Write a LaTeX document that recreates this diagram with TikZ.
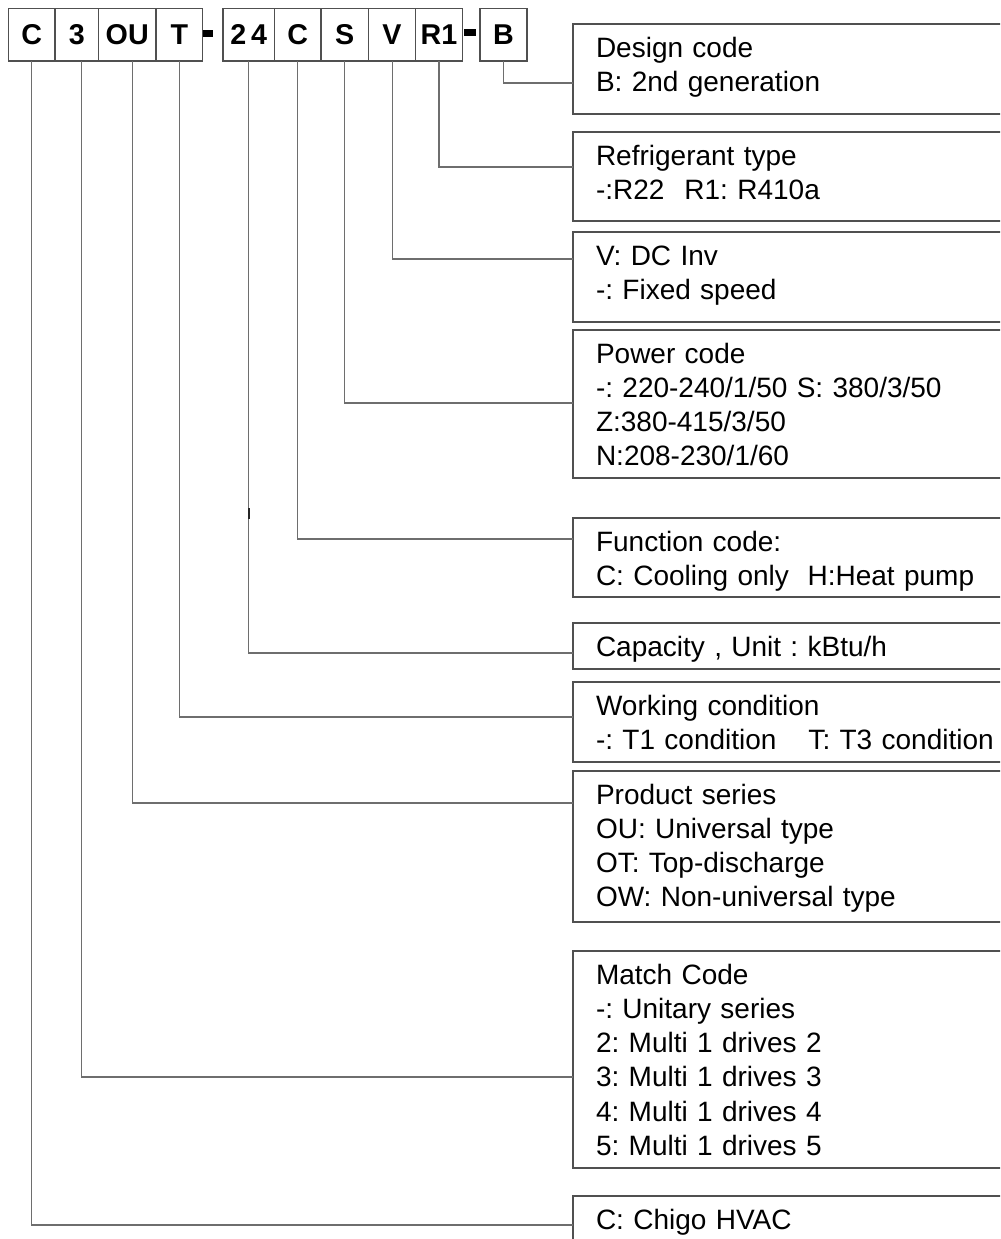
\documentclass[tikz,border=0pt]{standalone}
\usepackage{fontspec}
\setmainfont{Liberation Sans}
\usetikzlibrary{positioning}

\definecolor{linegray}{HTML}{6E6E6E}
\definecolor{boxgray}{HTML}{505050}

\begin{document}
\frenchspacing
\begin{tikzpicture}[
  x=0.75pt, y=-0.75pt,
  every node/.style={inner sep=0pt, outer sep=0pt},
  codebox/.style={draw=boxgray, line width=0.9pt, anchor=north west, minimum height=39.4pt,
    font=\fontsize{21.5}{25}\selectfont\bfseries},
  sepbar/.style={fill=black, anchor=north west, minimum height=5.25pt},
  infobox/.style={draw=boxgray, line width=0.9pt, anchor=north west, align=left,
    text width=316pt, inner xsep=17.25pt, inner ysep=0pt,
    text height=24.75pt, text depth=#1, font=\fontsize{21}{25.7}\selectfont},
  link/.style={draw=linegray, line width=0.8pt}]
\useasboundingbox (0,0) rectangle (1000,1239);
\clip (0,0) rectangle (1000,1239);

% model code boxes
\node[codebox, minimum width=34.8pt] (cC) at (8.6,8.5) {C};
\node[codebox, minimum width=32.6pt] (c3) at (55,8.5) {3};
\node[codebox, minimum width=43.1pt] (cOU) at (98.5,8.5) {OU};
\node[codebox, minimum width=34.9pt] (cT) at (156,8.5) {T};
\node[sepbar, minimum width=7.5pt] (sep1) at (203.3,29.5) {};
\node[codebox, minimum width=38.6pt] (c24) at (223,8.5) {2\,4};
\node[codebox, minimum width=34.9pt] (cFn) at (274.5,8.5) {C};
\node[codebox, minimum width=35.6pt] (cS) at (321,8.5) {S};
\node[codebox, minimum width=35.3pt] (cV) at (368.5,8.5) {V};
\node[codebox, minimum width=35.1pt] (cR1) at (415.6,8.5) {R1};
\node[sepbar, minimum width=9pt] (sep2) at (463.8,29) {};
\node[codebox, minimum width=35.3pt] (cB) at (480,8.5) {B};

% explanation boxes
\node[infobox=42.75pt] (dDesign) at (573,24) {Design code\\B: 2nd generation};
\node[infobox=42pt] (dRefr) at (573,132) {Refrigerant type\\-:R22\hspace{15pt}R1: R410a};
\node[infobox=42.75pt] (dInv) at (573,232) {V: DC Inv\\-: Fixed speed};
\node[infobox=86.25pt] (dPower) at (573,330) {Power code\\-: 220-240/1/50 S: 380/3/50\\Z:380-415/3/50\\N:208-230/1/60};
\node[infobox=34.5pt] (dFunc) at (573,518) {Function code:\\C: Cooling only\hspace{14pt}H:Heat pump};
\node[infobox=9.75pt] (dCap) at (573,623) {Capacity , Unit : kBtu/h};
\node[infobox=35.25pt] (dWork) at (573,682) {Working condition\\-: T1 condition\hspace{24pt}T: T3 condition};
\node[infobox=88.5pt] (dSeries) at (573,771) {Product series\\OU: Universal type\\OT: Top-discharge\\OW: Non-universal type};
\node[infobox=138pt] (dMatch) at (573,951) {Match Code\\-: Unitary series\\2: Multi 1 drives 2\\3: Multi 1 drives 3\\4: Multi 1 drives 4\\5: Multi 1 drives 5};
\node[infobox=30pt] (dBrand) at (573,1196) {C: Chigo HVAC};

% connector ends on the boxes
\coordinate (pDesign) at (573,83);
\coordinate (pRefr) at (573,167);
\coordinate (pInv) at (573,259);
\coordinate (pPower) at (573,403);
\coordinate (pFunc) at (573,539);
\coordinate (pCap) at (573,653);
\coordinate (pWork) at (573,717);
\coordinate (pSeries) at (573,803);
\coordinate (pMatch) at (573,1077);
\coordinate (pBrand) at (573,1225);

\draw[link] (cB.south) |- (pDesign);
\draw[link] (cR1.south) |- (pRefr);
\draw[link] (cV.south) |- (pInv);
\draw[link] (cS.south) |- (pPower);
\draw[link] (cFn.south) |- (pFunc);
\draw[link] (c24.south) |- (pCap);
\draw[link] (cT.south) |- (pWork);
\draw[link] ([xshift=4pt]cOU.south) |- (pSeries);
\draw[link] ([xshift=3.9pt]c3.south) |- (pMatch);
\draw[link] (cC.south) |- (pBrand);
\draw[line width=1.2pt, black!85] (249,508) -- (249,519);
\end{tikzpicture}
\end{document}
